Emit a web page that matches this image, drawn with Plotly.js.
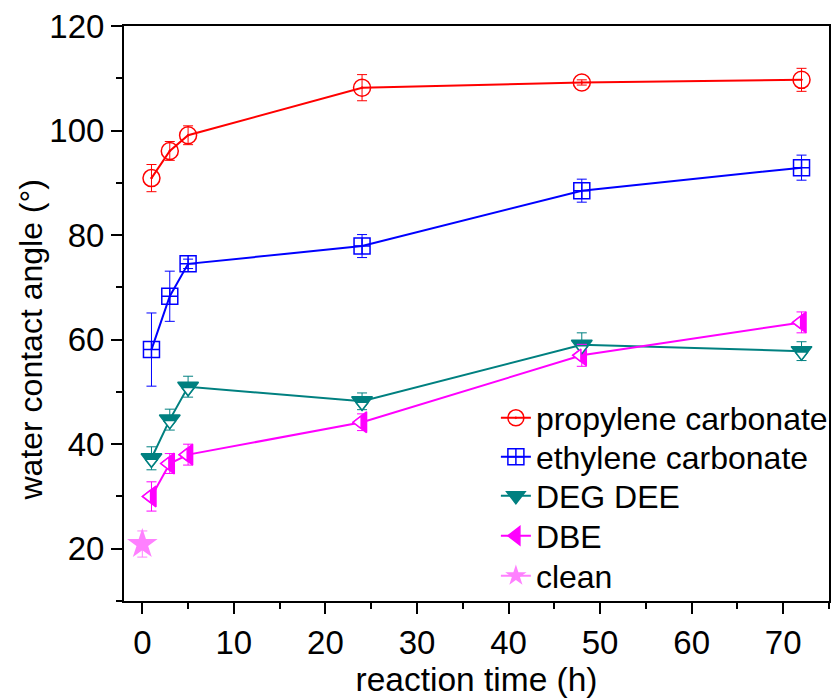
<!DOCTYPE html>
<html>
<head>
<meta charset="utf-8">
<script src="https://cdn.plot.ly/plotly-3.0.1.min.js"></script>
<style>html,body{margin:0;padding:0;background:#fff;}#chart{width:838px;height:698px;}</style>
</head>
<body>
<div id="chart"></div>
<script>
// ---- data ----
const timeH = [1, 3, 5, 24, 48, 72];

const pcAngle = [90.9, 96.1, 99.1, 108.2, 109.2, 109.7];
const pcErr   = [2.6, 1.8, 1.8, 2.5, 0.5, 2.2];

const ecAngle = [58.1, 68.3, 74.5, 77.9, 88.5, 92.9];
const ecErr   = [7.0, 4.8, 0.9, 2.2, 2.2, 2.4];

const degAngle = [37.3, 44.7, 51.0, 48.2, 59.0, 57.8];
const degErr   = [2.2, 2.0, 2.0, 1.6, 2.3, 1.8];

const dbeAngle = [30.0, 36.3, 38.0, 44.2, 57.0, 63.3];
const dbeErr   = [2.8, 1.9, 2.0, 1.6, 2.1, 2.0];

const cleanTime  = [0];
const cleanAngle = [20.9];
const cleanErr   = [2.5];

const seriesNames = ["propylene carbonate", "ethylene carbonate", "DEG DEE", "DBE", "clean"];
const xTitle = "reaction time (h)";
const yTitle = "water contact angle (°)";

// ---- layout geometry ----
const W = 838, H = 698;
const M = {l: 124, r: 5, t: 26, b: 97};
const xRange = [-2, 75], yRange = [10, 120];
const plotW = W - M.l - M.r, plotH = H - M.t - M.b;
const pxPerX = plotW / (xRange[1] - xRange[0]);
const pxPerY = plotH / (yRange[1] - yRange[0]);

const FONT = "Arial, 'Liberation Sans', sans-serif";
const RED = "#ff0000", BLUE = "#0000ff", TEAL = "#008080", MAG = "#ff00ff", STAR = "#ff80ff";

// half-filled triangle markers: a filled triangle plus a smaller open (white) one
const triSize = 18, openFrac = 0.6;
const triR = triSize / 2;
const innerSize = triSize * openFrac;
const shiftPx = (1 - openFrac) * triR;
const dy = shiftPx / pxPerY;   // shift open part down (triangle-down)
const dx = shiftPx / pxPerX;   // shift open part left (triangle-left)

function errs(arr, color) {
  return {type: "data", array: arr, visible: true, color: color, thickness: 1, width: 5};
}

const legendIds = ["legend", "legend2", "legend3", "legend4", "legend5"];

const traces = [
  {
    name: seriesNames[0], x: timeH, y: pcAngle, mode: "lines+markers", legend: legendIds[0],
    line: {color: RED, width: 2},
    marker: {symbol: "circle-open-dot", size: 17, color: RED, line: {width: 1.5, color: RED}},
    error_y: errs(pcErr, RED)
  },
  {
    name: seriesNames[1], x: timeH, y: ecAngle, mode: "lines+markers", legend: legendIds[1],
    line: {color: BLUE, width: 2},
    marker: {symbol: "square-cross-open", size: 16, color: BLUE, line: {width: 1.5, color: BLUE}},
    error_y: errs(ecErr, BLUE)
  },
  {
    name: seriesNames[2], x: timeH, y: degAngle, mode: "lines+markers", legend: legendIds[2],
    line: {color: TEAL, width: 2},
    marker: {symbol: "triangle-down", size: triSize, color: TEAL, line: {width: 1.5, color: TEAL}},
    error_y: errs(degErr, TEAL)
  },
  {
    name: seriesNames[3], x: timeH, y: dbeAngle, mode: "lines+markers", legend: legendIds[3],
    line: {color: MAG, width: 2},
    marker: {symbol: "triangle-left", size: triSize, color: MAG, line: {width: 1.5, color: MAG}},
    error_y: errs(dbeErr, MAG)
  },
  {
    name: seriesNames[4], x: cleanTime, y: cleanAngle, mode: "lines+markers", legend: legendIds[4],
    line: {color: STAR, width: 2},
    marker: {symbol: "star", size: 23, color: STAR, line: {width: 0}},
    error_y: errs(cleanErr, STAR)
  },
  // open halves of the half-filled markers
  {
    x: timeH, y: degAngle, mode: "markers", showlegend: false, hoverinfo: "skip",
    xaxis: "x", yaxis: "y2",
    marker: {symbol: "triangle-down", size: innerSize, color: "#ffffff", line: {width: 1.5, color: TEAL}}
  },
  {
    x: timeH, y: dbeAngle, mode: "markers", showlegend: false, hoverinfo: "skip",
    xaxis: "x2", yaxis: "y",
    marker: {symbol: "triangle-left", size: innerSize, color: "#ffffff", line: {width: 1.5, color: MAG}}
  }
];

const axisCommon = {
  showline: true, linewidth: 2, linecolor: "#000", mirror: true,
  showgrid: false, zeroline: false,
  ticks: "outside", ticklen: 11, tickwidth: 2, tickcolor: "#000",
  tickfont: {family: FONT, size: 33, color: "#000"},
};

// legend entry centres (px from top), one legend per entry
const legendCentersPx = [418, 457, 496, 536, 576];
const legendLeftPx = 498;

const layout = {
  width: W, height: H,
  margin: M,
  paper_bgcolor: "#fff", plot_bgcolor: "#fff",
  font: {family: FONT, color: "#000"},
  showlegend: true,
  xaxis: Object.assign({}, axisCommon, {
    range: xRange, tick0: 0, dtick: 10,
    minor: {ticks: "outside", ticklen: 6, tickwidth: 2, tickcolor: "#000", tick0: 0, dtick: 5},
    title: {text: xTitle, font: {family: FONT, size: 33.5, color: "#000"}, standoff: 10}
  }),
  yaxis: Object.assign({}, axisCommon, {
    range: yRange, tick0: 0, dtick: 20,
    minor: {ticks: "outside", ticklen: 6, tickwidth: 2, tickcolor: "#000", tick0: 0, dtick: 10},
    title: {text: ""}
  }),
  xaxis2: {overlaying: "x", range: [xRange[0] + dx, xRange[1] + dx], visible: false, anchor: "y"},
  yaxis2: {overlaying: "y", range: [yRange[0] + dy, yRange[1] + dy], visible: false, anchor: "x"},
  annotations: [{
    text: yTitle, textangle: -90, showarrow: false,
    xref: "paper", yref: "paper",
    x: (30 - M.l) / plotW, y: (M.t + plotH - 340) / plotH,
    xanchor: "center", yanchor: "middle",
    font: {family: FONT, size: 32, color: "#000"}
  }]
};

legendIds.forEach(function (id, i) {
  layout[id] = {
    x: (legendLeftPx - M.l) / plotW,
    y: (M.t + plotH - legendCentersPx[i]) / plotH,
    xanchor: "left", yanchor: "middle",
    bgcolor: "rgba(0,0,0,0)", borderwidth: 0,
    font: {family: FONT, size: 32, color: "#000"},
    itemwidth: 30
  };
});

Plotly.newPlot("chart", traces, layout, {displayModeBar: false, staticPlot: true});
</script>
</body>
</html>
